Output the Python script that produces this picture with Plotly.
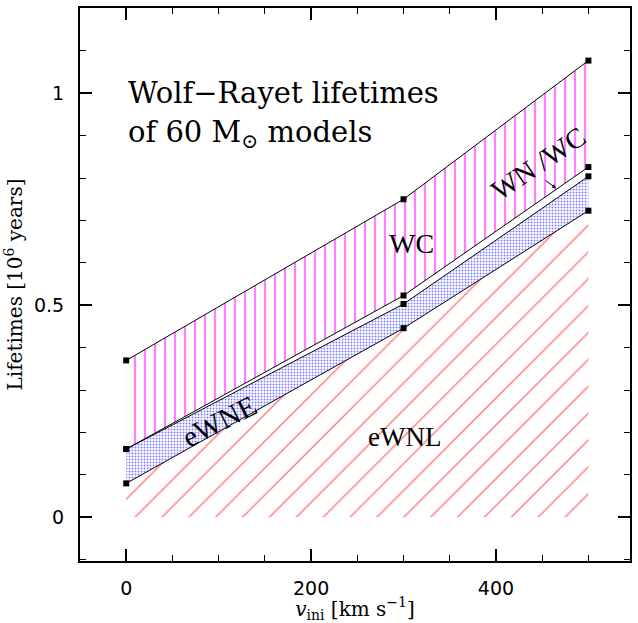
import plotly.graph_objects as go

v_ini = [0, 300, 500]
base = [0, 0, 0]
ewnl_top = [0.080, 0.446, 0.723]
ewne_top = [0.161, 0.503, 0.804]
wnwc_top = [0.161, 0.523, 0.826]
wc_top = [0.370, 0.750, 1.077]

x_ticks = [0, 200, 400]
y_ticks = [0, 0.5, 1]
y_tick_text = ["0", "0.5", "1"]

fig = go.Figure()

fig.add_trace(go.Scatter(x=v_ini, y=base, mode="lines", line=dict(width=0, color="rgba(0,0,0,0)"),
                         hoverinfo="skip", showlegend=False))
fig.add_trace(go.Scatter(x=v_ini, y=ewnl_top, mode="lines", fill="tonexty",
                         fillcolor="rgba(0,0,0,0)",
                         fillpattern=dict(shape="/", fgcolor="#ff0000", bgcolor="rgba(0,0,0,0)",
                                          size=19, solidity=0.08),
                         line=dict(width=1, color="black"), showlegend=False))
fig.add_trace(go.Scatter(x=v_ini, y=ewne_top, mode="lines", fill="tonexty",
                         fillcolor="rgba(0,0,0,0)",
                         fillpattern=dict(shape=".", fgcolor="#0000ff", bgcolor="rgba(0,0,0,0)",
                                          size=3, solidity=0.35),
                         line=dict(width=1, color="black"), showlegend=False))
fig.add_trace(go.Scatter(x=v_ini, y=wnwc_top, mode="lines",
                         line=dict(width=1, color="black"), showlegend=False))
fig.add_trace(go.Scatter(x=v_ini, y=wc_top, mode="lines", fill="tonexty",
                         fillcolor="rgba(0,0,0,0)",
                         fillpattern=dict(shape="|", fgcolor="#ff00ff", bgcolor="rgba(0,0,0,0)",
                                          size=10, solidity=0.22),
                         line=dict(width=1, color="black"), showlegend=False))

# data point markers
for ys in [ewnl_top, ewne_top, wnwc_top, wc_top]:
    fig.add_trace(go.Scatter(x=v_ini, y=ys, mode="markers",
                             marker=dict(symbol="square", size=6, color="black"),
                             showlegend=False))

serif = "Liberation Serif"
wide_serif = "DejaVu Serif"
fig.add_annotation(x=0, y=1.0, xref="x", yref="y", xanchor="left", yanchor="middle",
                   text="Wolf\u2212Rayet lifetimes", showarrow=False,
                   font=dict(family=wide_serif, size=29, color="black"))
fig.add_annotation(x=0, y=0.905, xref="x", yref="y", xanchor="left", yanchor="middle",
                   text="of 60 M<sub>\u2299</sub> models", showarrow=False,
                   font=dict(family=wide_serif, size=29, color="black"))
fig.add_annotation(x=309, y=0.645, xref="x", yref="y", text="WC", showarrow=False,
                   font=dict(family=serif, size=28, color="black"))
fig.add_annotation(x=446, y=0.835, xref="x", yref="y", text="WN /WC", showarrow=False,
                   textangle=-34, font=dict(family=serif, size=28, color="black"))
fig.add_annotation(x=465, y=0.776, ax=452, ay=0.797, xref="x", yref="y", axref="x", ayref="y",
                   text="", showarrow=True, arrowhead=2, arrowsize=0.8, arrowwidth=1,
                   arrowcolor="black")
fig.add_annotation(x=101, y=0.226, xref="x", yref="y", text="eWNE", showarrow=False,
                   textangle=-27, font=dict(family=serif, size=29, color="black"))
fig.add_annotation(x=301, y=0.19, xref="x", yref="y", text="eWNL", showarrow=False,
                   font=dict(family=serif, size=27, color="black"))

axis_common = dict(showline=True, linecolor="black", linewidth=2, mirror="allticks",
                   ticks="inside", ticklen=12, tickwidth=1.5, tickcolor="black",
                   showgrid=False, zeroline=False,
                   tickfont=dict(family="DejaVu Sans", size=19, color="black"))

fig.update_xaxes(range=[-50, 545], tickvals=x_ticks, ticklabelstandoff=9,
                 minor=dict(dtick=50, tick0=0, ticks="inside", ticklen=6, tickcolor="black",
                            tickwidth=1, showgrid=False),
                 title=dict(text="<i>v</i><sub>ini</sub> [km s<sup>\u22121</sup>]",
                            font=dict(family=wide_serif, size=20, color="black"), standoff=4),
                 **axis_common)
fig.update_yaxes(range=[-0.103, 1.201], tickvals=y_ticks, ticktext=y_tick_text,
                 ticklabelstandoff=10,
                 minor=dict(dtick=0.1, tick0=0, ticks="inside", ticklen=6, tickcolor="black",
                            tickwidth=1, showgrid=False),
                 title=dict(text="Lifetimes [10<sup>6</sup> years]",
                            font=dict(family=wide_serif, size=20, color="black"), standoff=6),
                 **axis_common)

fig.update_layout(width=638, height=623, margin=dict(l=80, r=6, t=7, b=58),
                  plot_bgcolor="white", paper_bgcolor="white")

fig.write_html("out.html")
